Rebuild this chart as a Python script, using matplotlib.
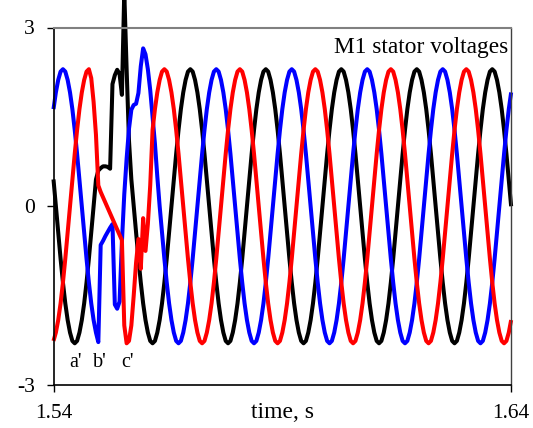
import numpy as np
import matplotlib
matplotlib.use("Agg")
import matplotlib.pyplot as plt

plt.rcParams['font.family'] = ['Liberation Serif', 'DejaVu Serif']

# ---- data (phase voltages sampled every t_step seconds from t_start) ----
t_start = 1.54
t_step = 0.000515625

black = [
    0.45, 0.00, -0.45, -0.88, -1.28, -1.63, -1.91, -2.12, -2.26, -2.30, -2.26, -2.12, -1.91, -1.63, -1.28, -0.88,
    -0.45, 0.00, 0.45, 0.60, 0.64, 0.67, 0.67, 0.66, 0.63, 2.05, 2.20, 2.29, 2.22, 1.87, 3.60, 2.30,
    1.10, 0.45, 0.00, -0.45, -0.88, -1.28, -1.63, -1.91, -2.12, -2.26, -2.30, -2.26, -2.12, -1.91, -1.63, -1.28,
    -0.88, -0.45, 0.00, 0.45, 0.88, 1.28, 1.63, 1.91, 2.12, 2.26, 2.30, 2.26, 2.12, 1.91, 1.63, 1.28,
    0.88, 0.45, 0.00, -0.45, -0.88, -1.28, -1.63, -1.91, -2.12, -2.26, -2.30, -2.26, -2.12, -1.91, -1.63, -1.28,
    -0.88, -0.45, 0.00, 0.45, 0.88, 1.28, 1.63, 1.91, 2.12, 2.26, 2.30, 2.26, 2.12, 1.91, 1.63, 1.28,
    0.88, 0.45, 0.00, -0.45, -0.88, -1.28, -1.63, -1.91, -2.12, -2.26, -2.30, -2.26, -2.12, -1.91, -1.63, -1.28,
    -0.88, -0.45, 0.00, 0.45, 0.88, 1.28, 1.63, 1.91, 2.12, 2.26, 2.30, 2.26, 2.12, 1.91, 1.63, 1.28,
    0.88, 0.45, 0.00, -0.45, -0.88, -1.28, -1.63, -1.91, -2.12, -2.26, -2.30, -2.26, -2.12, -1.91, -1.63, -1.28,
    -0.88, -0.45, 0.00, 0.45, 0.88, 1.28, 1.63, 1.91, 2.12, 2.26, 2.30, 2.26, 2.12, 1.91, 1.63, 1.28,
    0.88, 0.45, 0.00, -0.45, -0.88, -1.28, -1.63, -1.91, -2.12, -2.26, -2.30, -2.26, -2.12, -1.91, -1.63, -1.28,
    -0.88, -0.45, 0.00, 0.45, 0.88, 1.28, 1.63, 1.91, 2.12, 2.26, 2.30, 2.26, 2.12, 1.91, 1.63, 1.28,
    0.88, 0.45, 0.00,
]

blue = [
    1.63, 1.91, 2.12, 2.26, 2.30, 2.26, 2.12, 1.91, 1.63, 1.28, 0.88, 0.45, 0.00, -0.45, -0.88, -1.28,
    -1.63, -1.91, -2.12, -2.28, -0.65, -0.58, -0.50, -0.43, -0.36, -0.30, -1.65, -1.72, -1.60, -0.60, 0.20, 0.80,
    1.30, 1.62, 1.70, 1.72, 1.90, 2.35, 2.65, 2.55, 2.30, 1.95, 1.50, 1.05, 0.50,
    0.00, -0.45, -0.88, -1.28, -1.63, -1.91, -2.12, -2.26, -2.30, -2.26, -2.12, -1.91, -1.63, -1.28, -0.88, -0.45,
    0.00, 0.45, 0.88, 1.28, 1.63, 1.91, 2.12, 2.26, 2.30, 2.26, 2.12, 1.91, 1.63, 1.28, 0.88, 0.45,
    0.00, -0.45, -0.88, -1.28, -1.63, -1.91, -2.12, -2.26, -2.30, -2.26, -2.12, -1.91, -1.63, -1.28, -0.88, -0.45,
    0.00, 0.45, 0.88, 1.28, 1.63, 1.91, 2.12, 2.26, 2.30, 2.26, 2.12, 1.91, 1.63, 1.28, 0.88, 0.45,
    0.00, -0.45, -0.88, -1.28, -1.63, -1.91, -2.12, -2.26, -2.30, -2.26, -2.12, -1.91, -1.63, -1.28, -0.88, -0.45,
    0.00, 0.45, 0.88, 1.28, 1.63, 1.91, 2.12, 2.26, 2.30, 2.26, 2.12, 1.91, 1.63, 1.28, 0.88, 0.45,
    0.00, -0.45, -0.88, -1.28, -1.63, -1.91, -2.12, -2.26, -2.30, -2.26, -2.12, -1.91, -1.63, -1.28, -0.88, -0.45,
    0.00, 0.45, 0.88, 1.28, 1.63, 1.91, 2.12, 2.26, 2.30, 2.26, 2.12, 1.91, 1.63, 1.28, 0.88, 0.45,
    0.00, -0.45, -0.88, -1.28, -1.63, -1.91, -2.12, -2.26, -2.30, -2.26, -2.12, -1.91, -1.63, -1.28, -0.88, -0.45,
    0.00, 0.45, 0.88, 1.28, 1.63, 1.91,
]

red = [
    -2.26, -2.12, -1.91, -1.63, -1.28, -0.88, -0.45, 0.00, 0.45, 0.88, 1.28, 1.63, 1.91, 2.12, 2.26, 2.30,
    2.15, 1.75, 1.20, 0.35, 0.24, 0.15, 0.06, -0.03, -0.12, -0.21, -0.30, -0.39, -0.48, -0.57, -2.00, -2.30,
    -2.26, -2.00, -1.50, -0.95, -0.55, -1.05, -0.20, -0.75, -0.30, 0.35,
    1.28, 1.63, 1.91, 2.12, 2.26, 2.30, 2.26, 2.12, 1.91, 1.63, 1.28, 0.88, 0.45, 0.00, -0.45, -0.88,
    -1.28, -1.63, -1.91, -2.12, -2.26, -2.30, -2.26, -2.12, -1.91, -1.63, -1.28, -0.88, -0.45, 0.00, 0.45, 0.88,
    1.28, 1.63, 1.91, 2.12, 2.26, 2.30, 2.26, 2.12, 1.91, 1.63, 1.28, 0.88, 0.45, 0.00, -0.45, -0.88,
    -1.28, -1.63, -1.91, -2.12, -2.26, -2.30, -2.26, -2.12, -1.91, -1.63, -1.28, -0.88, -0.45, 0.00, 0.45, 0.88,
    1.28, 1.63, 1.91, 2.12, 2.26, 2.30, 2.26, 2.12, 1.91, 1.63, 1.28, 0.88, 0.45, 0.00, -0.45, -0.88,
    -1.28, -1.63, -1.91, -2.12, -2.26, -2.30, -2.26, -2.12, -1.91, -1.63, -1.28, -0.88, -0.45, 0.00, 0.45, 0.88,
    1.28, 1.63, 1.91, 2.12, 2.26, 2.30, 2.26, 2.12, 1.91, 1.63, 1.28, 0.88, 0.45, 0.00, -0.45, -0.88,
    -1.28, -1.63, -1.91, -2.12, -2.26, -2.30, -2.26, -2.12, -1.91, -1.63, -1.28, -0.88, -0.45, 0.00, 0.45, 0.88,
    1.28, 1.63, 1.91, 2.12, 2.26, 2.30, 2.26, 2.12, 1.91, 1.63, 1.28, 0.88, 0.45, 0.00, -0.45, -0.88,
    -1.28, -1.63, -1.91, -2.12, -2.26, -2.30, -2.26, -2.12, -1.91,
]

phase_labels = ["a'", "b'", "c'"]
phase_label_times = [1.5447, 1.5502, 1.5561]
phase_label_value = -2.62

x_ticks = [1.54, 1.64]
x_tick_labels = ["1.54", "1.64"]
y_ticks = [-3, 0, 3]
y_tick_labels = ["-3", "0", "3"]

# ---- figure ----
W, H = 533, 428
fig = plt.figure(figsize=(W / 100, H / 100), dpi=100)
left, right, top, bottom = 53.5, 511.0, 27.5, 385.0
ax = fig.add_axes([left / W, 1 - bottom / H, (right - left) / W, (bottom - top) / H])

n = len(black)
t = t_start + t_step * np.arange(n)

for vals, col in [(black, 'black'), (blue, '#0000ff'), (red, '#ff0000')]:
    ax.plot(t[:len(vals)], vals, color=col, lw=2.9, clip_on=False,
            solid_capstyle='butt', solid_joinstyle='round')

ax.set_xlim(1.54, 1.64)
ax.set_ylim(-3, 3)
ax.set_xticks(x_ticks)
ax.set_xticklabels(x_tick_labels)
ax.set_yticks(y_ticks)
ax.set_yticklabels(y_tick_labels)
ax.tick_params(direction='out', length=5, width=1, pad=8.5, labelsize=15.5, colors='black')

ax.set_xlabel('time, s', fontsize=17)
ax.xaxis.set_label_coords(0.5, -(5 + 8.5 * 100 / 72) / (bottom - top))

for s in ['left', 'bottom']:
    ax.spines[s].set_color('black')
    ax.spines[s].set_linewidth(1.2)
ax.spines['top'].set_color('#808080')
ax.spines['top'].set_linewidth(1.5)
ax.spines['right'].set_color('#404040')
ax.spines['right'].set_linewidth(1.0)

ax.text(0.995, 0.943, 'M1 stator voltages', transform=ax.transAxes,
        ha='right', va='center', fontsize=16.8)

for lab, tx in zip(phase_labels, phase_label_times):
    ax.text(tx, phase_label_value, lab, ha='center', va='center', fontsize=14.5)

fig.savefig('out.png', dpi=100)
